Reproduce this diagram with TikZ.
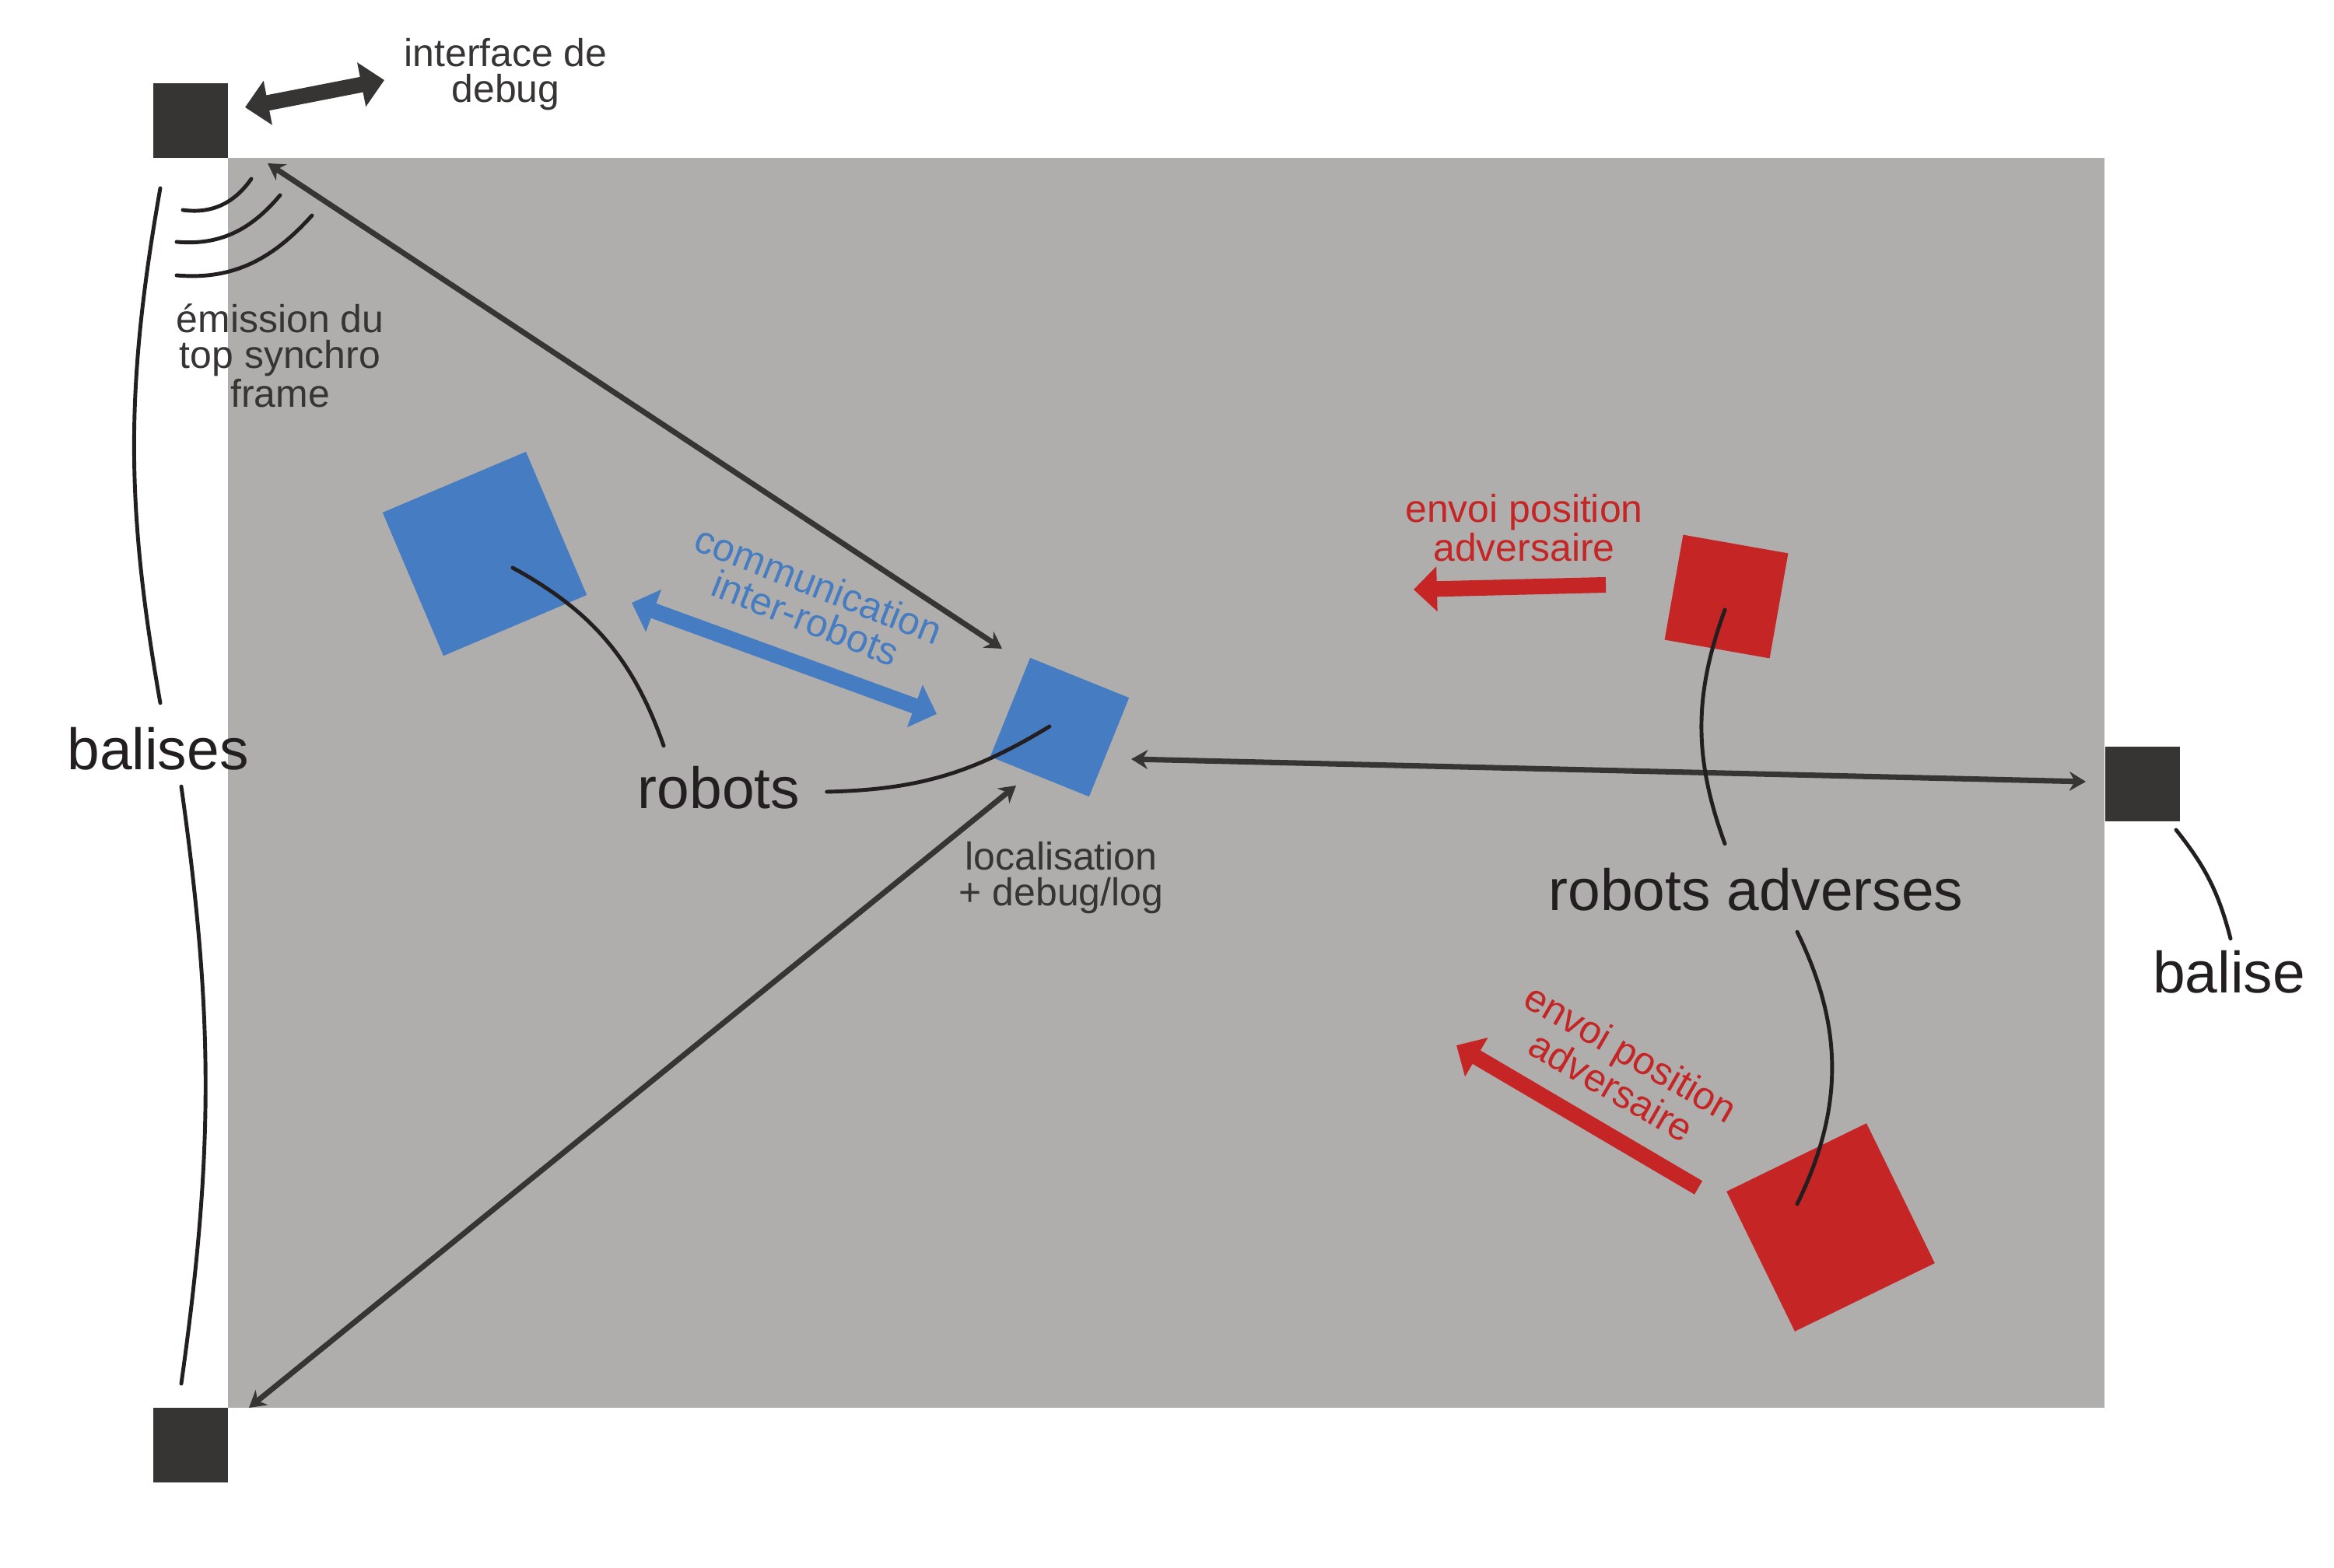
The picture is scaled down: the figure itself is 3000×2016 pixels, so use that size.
\documentclass[tikz,border=0pt]{standalone}
\usepackage{fontspec}
\setmainfont{Liberation Sans}
\usepackage{tikz}
\usetikzlibrary{arrows,arrows.meta,shapes}

\definecolor{tapis}{RGB}{175,174,172}
\definecolor{sombre}{RGB}{54,53,51}
\definecolor{encre}{RGB}{35,31,32}
\definecolor{bleu}{RGB}{70,124,194}
\definecolor{rouge}{RGB}{198,37,38}

\begin{document}
\begin{tikzpicture}[x=0.01cm,y=-0.01cm,>={Stealth[length=6pt,width=7pt]},
		balise node/.style={rectangle,fill=sombre,inner sep=0pt,minimum size=0.96cm},
		robot node/.style={rectangle,inner sep=0pt},
		big label/.style={inner sep=0pt,text=encre,font=\fontsize{21.3}{21.3}\selectfont},
		small label/.style={inner sep=0pt,align=center,font=\fontsize{14.2}{13.1}\selectfont},
		liaison/.style={<->,draw=sombre,line width=2pt},
		leader/.style={draw=encre,line width=1.4pt,line cap=round},
		fleche/.style={line width=5.7pt,-{Triangle[length=8.5pt,width=16pt]}},
		double fleche/.style={line width=5.7pt,{Triangle[length=8.5pt,width=16pt]}-{Triangle[length=8.5pt,width=16pt]}}]
		
		\useasboundingbox (0,0) rectangle (3000,2016);
		\fill[tapis] (293,203) rectangle (2705,1810);
		
		\node[balise node](b1) at (245,155){};
		\node[balise node](b2) at (245,1858){};
		\node[balise node](b3) at (2754,1008){};
		
		\node[robot node,fill=bleu,minimum size=2cm,rotate=23](r1) at (623,712){};
		\node[robot node,fill=bleu,minimum size=1.37cm,rotate=-22](r2) at (1362,935){};
		\node[robot node,fill=rouge,minimum size=1.37cm,rotate=-10](a1) at (2219,767){};
		\node[robot node,fill=rouge,minimum size=2cm,rotate=26](a2) at (2353,1578){};
		
		\node[big label](bl) at (203,963){balises};
		\node[big label](rl) at (924,1013){robots};
		\node[big label](al) at (2257,1144){robots adverses};
		\node[big label](bs) at (2865,1250){balise};
		
		\node[small label,text=sombre](dbg) at (650,96){interface de\\debug};
		\node[small label,text=sombre](em) at (360,457){émission du\\top synchro\\frame};
		\node[small label,text=sombre](loc) at (1364,1129){localisation\\+ debug/log};
		\node[small label,text=bleu,rotate=-21.5](com) at (1044,773){communication\\inter-robots};
		\node[small label,text=rouge](e1) at (1959,679){envoi position\\adversaire};
		\node[small label,text=rouge,rotate=-30](e2) at (2084,1375){envoi position\\adversaire};
		
		\draw[leader] ([shift={(-10,115)}]b1.center) to[out=-8,in=-125] ([shift={(78,75)}]b1.center);
		\draw[leader] ([shift={(-18,156)}]b1.center) to[out=-5,in=-130] ([shift={(115,96)}]b1.center);
		\draw[leader] ([shift={(-18,199)}]b1.center) to[out=-5,in=-132] ([shift={(156,122)}]b1.center);
		
		\draw[double fleche,draw=sombre] ([shift={(70,-17)}]b1.center) -- ([shift={(-156,7)}]dbg.center);
		\draw[double fleche,draw=bleu] ([shift={(189,63)}]r1.center) -- ([shift={(-158,-17)}]r2.center);
		\draw[fleche,draw=rouge] ([shift={(-155,-15)}]a1.center) -- ([shift={(-402,-9)}]a1.center);
		\draw[fleche,draw=rouge] ([shift={(-170,-51)}]a2.center) -- ([shift={(-481,-234)}]a2.center);
		
		\draw[liaison] ([shift={(99,55)}]b1.center) -- ([shift={(-74,-101)}]r2.center);
		\draw[liaison] ([shift={(75,-48)}]b2.center) -- ([shift={(-56,75)}]r2.center);
		\draw[liaison] ([shift={(-73,-3)}]b3.center) -- ([shift={(92,41)}]r2.center);
		
		\path[leader]
		([shift={(3,-31)}]bl.north) edge [bend left=10] ([shift={(-39,87)}]b1.center)
		([shift={(30,20)}]bl.south) edge [bend left=8] ([shift={(-12,-79)}]b2.center)
		([shift={(-71,-26)}]rl.north) edge [bend right=21] ([shift={(36,18)}]r1.center)
		([shift={(34,5)}]rl.east) edge [bend right=15] ([shift={(-13,-1)}]r2.center)
		([shift={(-40,-31)}]al.north) edge [bend left=20] ([shift={(-2,17)}]a1.center)
		([shift={(53,26)}]al.south) edge [bend left=26] ([shift={(-43,-30)}]a2.center)
		([shift={(43,59)}]b3.center) edge [bend left=12] ([shift={(2,-15)}]bs.north);
		
	\end{tikzpicture}
\end{document}
